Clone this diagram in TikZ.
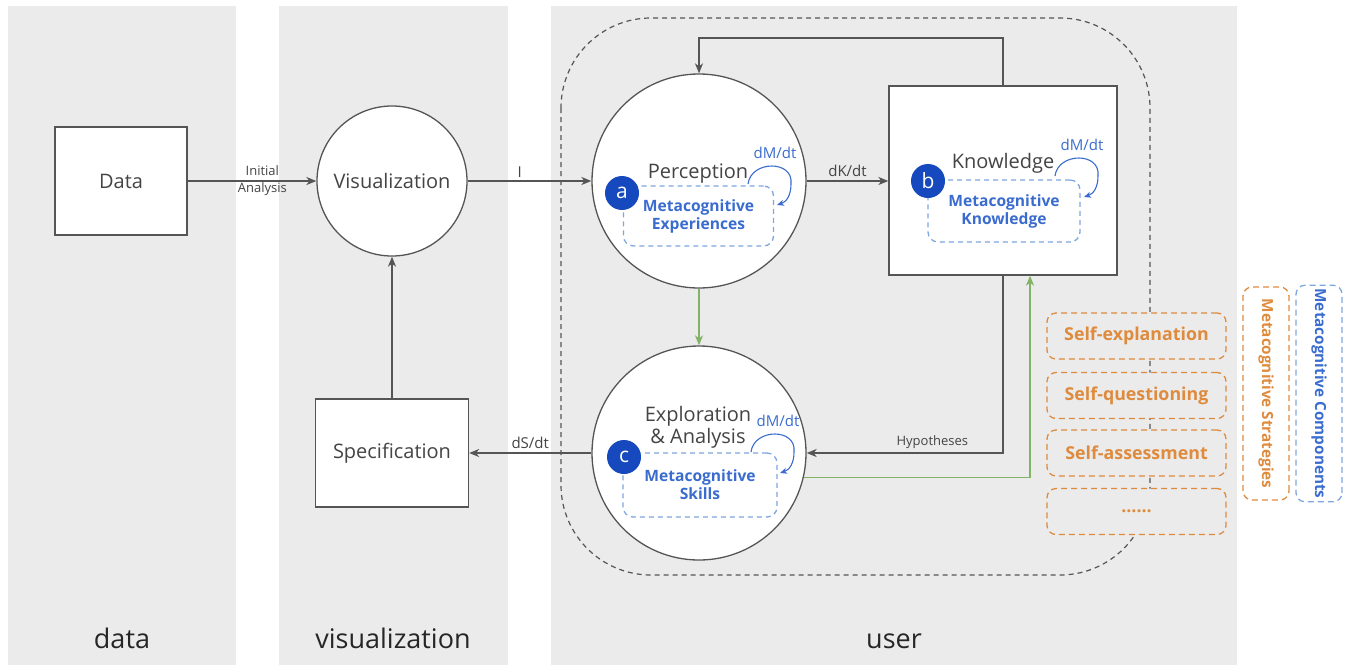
\documentclass[tikz,border=0pt]{standalone}
\usepackage{fontspec}
\setmainfont{Open Sans}
\usepackage{tikz}
\usetikzlibrary{arrows.meta, calc}

\definecolor{bandgray}{HTML}{EBEBEB}
\definecolor{linegray}{HTML}{555555}
\definecolor{textgray}{HTML}{444444}
\definecolor{badgeblue}{HTML}{1549BD}
\definecolor{metablue}{HTML}{3A6CCF}
\definecolor{dashblue}{HTML}{7EA6E0}
\definecolor{stratorange}{HTML}{DE8B3E}
\definecolor{flowgreen}{HTML}{82B366}

\newcommand{\setfs}[2]{\fontsize{#1}{#2}\selectfont}

\begin{document}
\begin{tikzpicture}[
    x=1pt, y=-1pt, line width=1.3pt,
    arrow/.style={draw=linegray, -{Stealth[length=10pt, width=8pt, inset=3pt]}},
    greenarrow/.style={draw=flowgreen, -{Stealth[length=10pt, width=8pt, inset=3pt]}},
    selfloop/.style={draw=metablue, line width=1.1pt, -{Stealth[length=7pt, width=6pt, inset=2pt]}},
    block/.style={draw=linegray, fill=white, text=textgray, font=\setfs{20}{24}},
    stage/.style={circle, draw=linegray, fill=white, minimum size=214pt, inner sep=0pt},
    stagename/.style={text=textgray, font=\setfs{20}{22}, align=center},
    metabox/.style={draw=dashblue, dash pattern=on 5pt off 4pt, rounded corners=10pt,
        text=metablue, font=\bfseries\setfs{15.6}{18}, align=center},
    badge/.style={circle, fill=badgeblue, text=white, minimum size=34pt, inner sep=0pt, font=\setfs{21}{21}},
    flowlabel/.style={text=textgray, font=\setfs{15}{18}},
    smalllabel/.style={text=textgray, font=\setfs{13}{17}, align=center},
    strategy/.style={draw=stratorange, dash pattern=on 6pt off 4pt, rounded corners=9pt, fill=bandgray,
        text=stratorange, font=\bfseries\setfs{17.8}{20}, minimum width=179pt, minimum height=46pt},
    legend/.style={dash pattern=on 6pt off 4pt, rounded corners=9pt, minimum width=213pt,
        minimum height=46pt, rotate=-90, font=\bfseries\setfs{15.3}{18}},
    lane/.style={anchor=base, text=black!85, font=\setfs{27}{30}}
]

    \useasboundingbox (0,0) rectangle (1347,667);

    % Lanes
    \fill[bandgray] (8,6) rectangle (236,665);
    \fill[bandgray] (279,6) rectangle (508,665);
    \fill[bandgray] (551,6) rectangle (1237,665);
    \node[lane] (laneData) at (122,648) {data};
    \node[lane] (laneVis) at (393,648) {visualization};
    \node[lane] (laneUser) at (894,648) {user};

    % User boundary
    \draw[linegray, line width=1.2pt, dash pattern=on 5pt off 4pt, rounded corners=90pt]
        (561,18) rectangle (1150,575);

    % Data and visualization side
    \node[block, minimum width=132pt, minimum height=108pt] (data) at (121,181) {Data};
    \node[block, circle, minimum size=150pt, inner sep=0pt] (vis) at (392,181) {Visualization};
    \node[block, minimum width=153pt, minimum height=108pt] (spec) at (392,453) {Specification};

    % User stages
    \node[stage] (perc) at (699,181) {};
    \node[stage] (expl) at (699,453) {};
    \node[draw=linegray, fill=white, minimum width=228pt, minimum height=189pt] (know) at (1003,180.5) {};

    \node[stagename, anchor=base] (percName) at (698,178) {Perception};
    \node[stagename, anchor=base] (knowName) at (1003,168) {Knowledge};
    \node[stagename] (explName) at (698,427) {Exploration\\\& Analysis};

    % Metacognitive components
    \node[metabox, minimum width=150pt, minimum height=60pt] (percMeta) at (698.5,216) {Metacognitive\\Experiences};
    \node[metabox, minimum width=152pt, minimum height=62pt] (knowMeta) at (1004,211) {Metacognitive\\Knowledge};
    \node[metabox, minimum width=154pt, minimum height=64pt] (explMeta) at (700,485) {Metacognitive\\Skills};
    \node[badge] (badgeA) at (622,193) {a};
    \node[badge] (badgeB) at (928,181) {b};
    \node[badge] (badgeC) at (624,457) {c};

    \foreach \lx/\ly/\nm in {748/184/perc, 1055/176/know, 751/452/expl}
        \draw[selfloop] (\lx,\ly) .. controls ({\lx+3},{\ly-24}) and ({\lx+46},{\ly-24}) .. ({\lx+43},\ly)
            .. controls ({\lx+43},{\ly+12}) and ({\lx+38},{\ly+18}) .. ({\lx+29},{\ly+21})
            node[flowlabel, text=metablue] (\nm-dm) at ({\lx+27},{\ly-31}) {dM/dt};

    % Flows
    \draw[arrow] (data.east) -- (vis.west) node[smalllabel, pos=0.58] (initLabel) {Initial\\Analysis};
    \draw[arrow] (vis.east) -- (perc.west) node[flowlabel, above, pos=0.42] (iLabel) {I};
    \draw[arrow] (perc.east) -- (perc.east -| know.west) node[flowlabel, above, midway] (dkLabel) {dK/dt};
    \draw[arrow] (expl.west) -- (spec.east) node[flowlabel, above, midway] (dsLabel) {dS/dt};
    \draw[arrow] (spec.north) -- (vis.south);
    \coordinate (loopTop) at (699,38);
    \draw[arrow] (know.north) |- (loopTop) -- (perc.north);
    \draw[arrow] (know.south) |- (expl.east) node[smalllabel, above, pos=0.68] (hypLabel) {Hypotheses};
    \draw[greenarrow] (perc.south) -- (expl.north);
    \draw[greenarrow] (expl.-13) -| ([xshift=27pt]know.south);

    % Strategies
    \node[strategy] (selfExpl) at (1136.5,336) {Self-explanation};
    \node[strategy] (selfQuest) at (1136.5,395.5) {Self-questioning};
    \node[strategy] (selfAssess) at (1136.5,453) {Self-assessment};
    \node[strategy] (selfMore) at (1136.5,511.5) {......};

    % Legend
    \node[legend, draw=stratorange, text=stratorange] (legStrat) at (1266,393.5) {Metacognitive Strategies};
    \node[legend, draw=dashblue, text=metablue] (legComp) at (1319,393.5) {Metacognitive Components};

\end{tikzpicture}
\end{document}
